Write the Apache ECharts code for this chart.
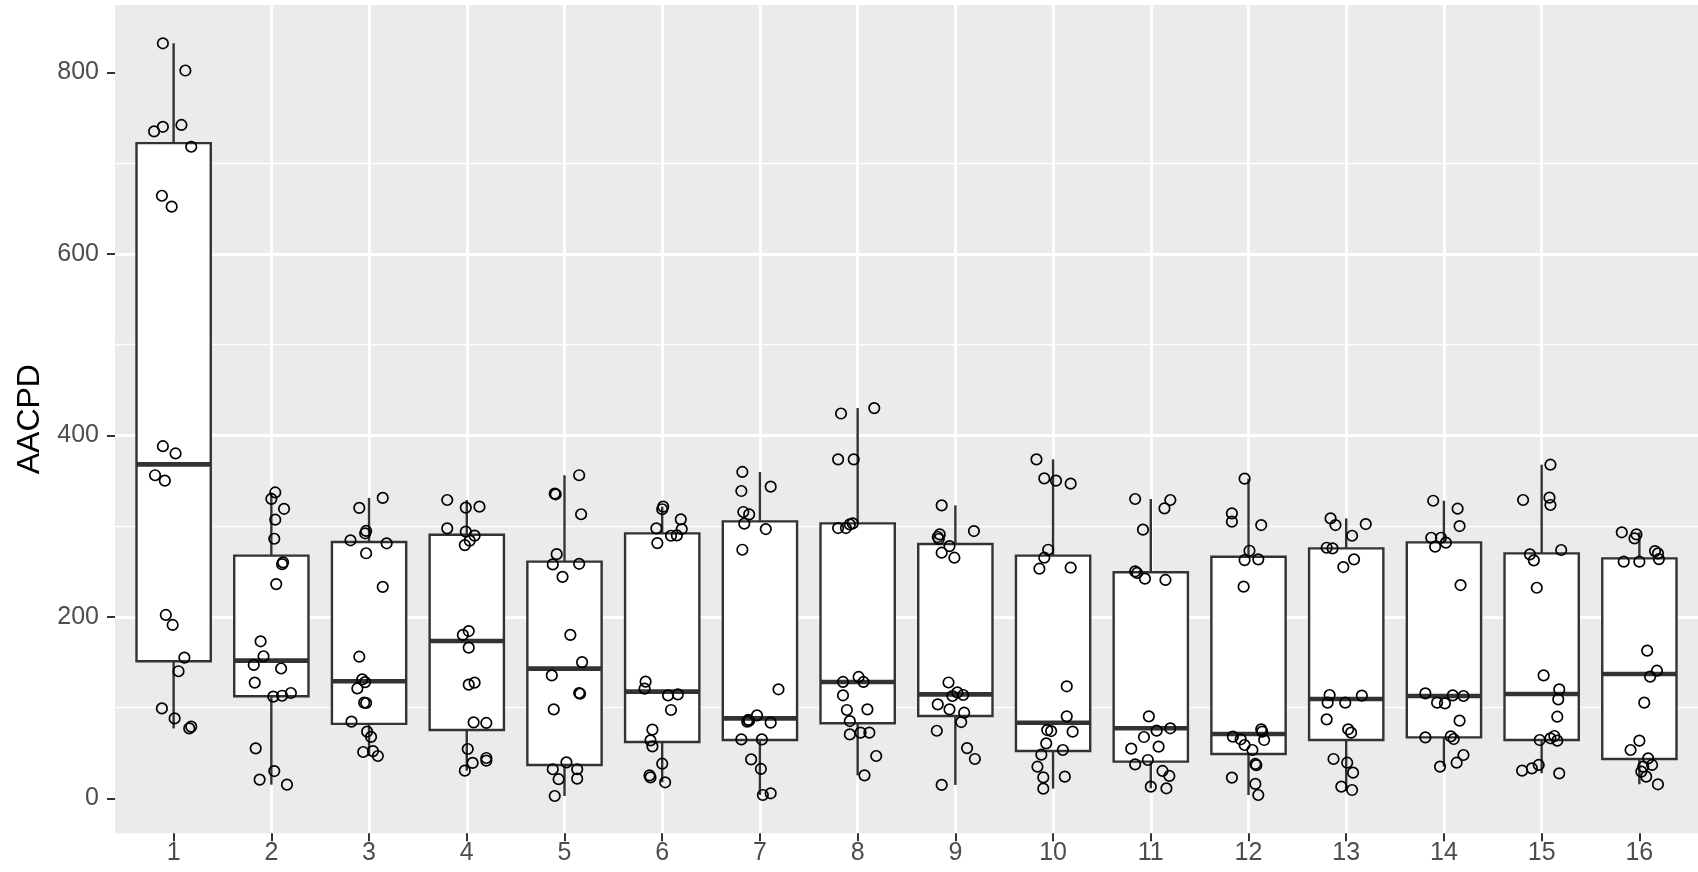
<!DOCTYPE html>
<html>
<head>
<meta charset="utf-8">
<script src="https://cdn.jsdelivr.net/npm/echarts@6/dist/echarts.min.js"></script>
<style>
html,body{margin:0;padding:0;background:#ffffff;}
#chart{width:1698px;height:872px;}
</style>
</head>
<body>
<div id="chart"></div>
<script>
// ---------- data ----------
const categories = ['1','2','3','4','5','6','7','8','9','10','11','12','13','14','15','16'];
const yTickValues = [0, 200, 400, 600, 800];
const yAxisTitle = 'AACPD';

// box statistics (lower whisker end, Q1, median, Q3, upper whisker end)
const boxMin    = [77,  15,   46.6, 30.4, 2.5,  17.6, 3.6,  25.3, 14.7, 10.6, 11,   3.6,  9.1,  34.9, 27.5, 15.4];
const boxQ1     = [151, 112.4, 82,  75.3, 36.6, 62,   64.2, 82.6, 90.7, 52.1, 40.4, 48.8, 64.2, 67.1, 64.2, 43.3];
const boxMedian = [368, 151.7, 129, 173.3, 142.9, 117.5, 88, 128.2, 114.5, 83.3, 77.1, 70.9, 109.4, 112.7, 114.9, 137];
const boxQ3     = [722, 267.4, 282.5, 290.4, 260.8, 291.9, 305.1, 302.9, 280.2, 267.4, 249, 266.2, 275.4, 282, 269.9, 264.4];
const boxMax    = [832, 337,  331,  328.7, 356, 321.4, 359.6, 430, 322.8, 373.5, 329.8, 352.2, 308.4, 327.9, 367.6, 293.1];

// jittered points: [horizontal jitter (category units), value]
const points1 = [[-0.11,832],[0.12,802],[0.08,742],[-0.11,740],[-0.20,735],[0.18,718],[-0.12,664],[-0.02,652],[-0.11,388],[0.02,380],[-0.19,356],[-0.09,350],[-0.08,202],[-0.01,191],[0.11,155],[0.05,140],[-0.12,99],[0.01,88],[0.16,77],[0.18,79]];
const points2 = [[0.04,337],[0.00,330],[0.13,319],[0.04,307],[0.03,286],[0.12,260],[0.11,258],[0.05,236],[-0.11,173],[-0.08,156.5],[-0.18,147],[0.10,143],[-0.17,127.5],[0.20,116],[0.11,113],[0.02,112],[-0.16,55],[0.03,30],[-0.12,20.6],[0.16,15]];
const points3 = [[0.14,331],[-0.10,320],[-0.03,294.6],[-0.04,292],[-0.19,284.3],[0.18,281],[-0.03,270],[0.14,233],[-0.10,156],[-0.07,131],[-0.04,128],[-0.12,121],[-0.03,105],[-0.05,105.4],[-0.18,84.5],[-0.02,73.5],[0.02,67.6],[-0.06,51],[0.04,52],[0.09,46.6]];
const points4 = [[-0.20,328.7],[-0.01,320.3],[0.13,321.4],[-0.20,297.5],[-0.01,293.8],[0.08,289.4],[0.03,284],[-0.02,279],[0.02,184.3],[-0.04,180],[0.02,166],[0.08,127.4],[0.02,125.2],[0.07,83.7],[0.20,83],[0.01,54.3],[0.20,44.4],[0.20,41.5],[0.06,39],[-0.02,30.4]];
const points5 = [[0.15,356],[-0.10,335.7],[-0.09,335],[0.17,313],[-0.08,269],[-0.12,257.7],[0.15,258.4],[-0.02,244],[0.06,180],[0.18,150],[-0.13,135.4],[0.15,116],[0.16,115.2],[-0.11,98],[0.02,39.6],[-0.12,32],[0.13,32],[-0.06,21],[0.13,21.6],[-0.10,2.5]];
const points6 = [[0.01,321.4],[0.00,318.5],[0.19,307.4],[-0.06,297.5],[0.20,296.7],[0.15,289.7],[0.09,289.3],[-0.05,281.2],[-0.17,128.5],[-0.18,120.8],[0.16,114.5],[0.06,113.4],[0.09,97.3],[-0.10,75.6],[-0.12,63.8],[-0.10,57.2],[0.00,38.1],[-0.13,25.2],[-0.12,23],[0.03,17.6]];
const points7 = [[-0.18,359.6],[0.11,343.4],[-0.19,338.6],[-0.17,315.5],[-0.11,312.9],[-0.16,302.6],[0.06,296.7],[-0.18,273.9],[0.19,120.1],[-0.03,91.4],[-0.12,86.3],[-0.13,84.4],[-0.11,85.5],[0.11,83.3],[-0.19,64.9],[0.02,64.9],[-0.09,42.9],[0.01,32.3],[0.11,5.5],[0.03,3.6]];
const points8 = [[0.17,430],[-0.17,424],[-0.20,373.5],[-0.04,373.5],[-0.20,297.8],[-0.12,297.8],[-0.08,301.8],[-0.05,302.9],[-0.15,128.2],[0.01,133.7],[0.06,128.2],[-0.15,113.5],[-0.11,97.3],[0.10,98],[-0.08,85.1],[-0.08,70.4],[0.03,72.3],[0.12,72.3],[0.19,46.6],[0.07,25.3]];
const points9 = [[-0.14,322.8],[0.19,294.5],[-0.16,290.8],[-0.18,287.9],[-0.17,285.7],[-0.06,277.9],[-0.14,270.6],[-0.01,265.1],[-0.07,127.6],[0.02,116.7],[0.08,113.8],[-0.03,112.7],[-0.18,103.5],[-0.06,98],[0.09,94.3],[0.06,84],[-0.19,74.4],[0.12,55.3],[0.20,43.3],[-0.14,14.7]];
const points10 = [[-0.17,373.5],[-0.09,352.6],[0.03,350],[0.18,346.7],[-0.05,273.9],[-0.09,265.1],[-0.14,253],[0.18,254.1],[0.14,123.4],[0.14,90.3],[-0.06,75.2],[-0.02,74.1],[0.20,73.4],[-0.07,60.5],[0.10,53.2],[-0.12,48],[-0.16,34.8],[-0.10,23],[0.12,23.8],[-0.10,10.6]];
const points11 = [[-0.16,329.8],[0.20,328.7],[0.14,319.5],[-0.08,296],[-0.16,250.1],[-0.14,248.3],[-0.06,242],[0.15,240.6],[-0.02,90.3],[0.20,77.1],[0.06,74.5],[-0.07,67.5],[0.08,56.9],[-0.20,54.7],[-0.03,42.2],[-0.16,37.4],[0.12,30.1],[0.19,24.6],[0.00,12.8],[0.16,11]];
const points12 = [[-0.04,352.2],[-0.17,314],[-0.17,304.8],[0.13,301.1],[0.01,272.8],[-0.04,262.5],[0.10,263.3],[-0.05,233.2],[0.13,76],[0.14,73.4],[-0.16,67.9],[-0.08,65],[0.16,64.2],[-0.04,58.7],[0.04,53.2],[0.07,37.8],[0.08,36.5],[-0.17,22.8],[0.07,15.8],[0.10,3.6]];
const points13 = [[-0.16,308.4],[-0.11,301.1],[0.20,302.2],[0.06,289.3],[-0.20,276.1],[-0.14,275.4],[0.08,263.3],[-0.03,254.8],[-0.17,113.8],[0.16,113.1],[-0.19,105.4],[-0.01,105.4],[-0.20,87],[0.02,76],[0.05,72.3],[-0.13,43.3],[0.01,39.2],[0.07,28.2],[-0.05,12.8],[0.06,9.1]];
const points14 = [[-0.11,327.9],[0.14,319.1],[0.16,300],[-0.13,287.1],[-0.03,287.1],[-0.09,277.3],[0.02,281.7],[0.17,235],[-0.19,115.6],[0.09,113.4],[0.20,112.7],[-0.07,105.4],[0.01,104.6],[0.16,85.5],[-0.19,67.1],[0.07,68.2],[0.10,65.3],[0.20,47.7],[0.13,39.2],[-0.04,34.9]];
const points15 = [[0.09,367.6],[-0.19,328.7],[0.08,331.3],[0.09,323.2],[0.20,273.6],[-0.12,268.8],[-0.08,262.2],[-0.05,232],[0.02,135.4],[0.18,120],[0.17,109],[0.16,89.9],[0.13,68.6],[0.09,66.1],[0.16,63.5],[-0.02,64.2],[-0.03,36.7],[-0.10,33],[-0.20,30.4],[0.18,27.5]];
const points16 = [[-0.18,293.1],[-0.03,290.8],[-0.05,286.4],[0.16,272.4],[0.19,269.9],[0.20,263.6],[-0.16,260.7],[0.00,260.7],[0.08,162.7],[0.18,140.6],[0.11,134],[0.05,105.4],[0.00,63.5],[-0.09,53.2],[0.09,44],[0.13,36.7],[0.04,34.9],[0.02,29.4],[0.07,23.9],[0.19,15.4]];

// ---------- build the chart ----------
const pointsByCategory = [points1,points2,points3,points4,points5,points6,points7,points8,points9,points10,points11,points12,points13,points14,points15,points16];
const categoryPos = categories.map((c, i) => i + 1);
const boxData = categories.map((c, i) => [i + 1, boxMin[i], boxQ1[i], boxMedian[i], boxQ3[i], boxMax[i]]);
const scatterData = [];
pointsByCategory.forEach((pts, i) => pts.forEach(p => scatterData.push([i + 1 + p[0], p[1]])));

const FONT = '"Liberation Sans", Arial, Helvetica, sans-serif';
const BOX_WIDTH = 0.76;
const STROKE = '#333333';
const BOX_LW = 2.4;
const MEDIAN_LW = 4.6;

const chart = echarts.init(document.getElementById('chart'), null, {renderer: 'canvas'});
chart.setOption({
  animation: false,
  backgroundColor: '#ffffff',
  grid: {
    left: 115, right: -16, top: 5, bottom: 38.7,
    show: true, backgroundColor: '#EBEBEB', borderWidth: 0
  },
  xAxis: {
    type: 'value',
    min: 0.4, max: 16.6,
    splitNumber: 16, minInterval: 1, maxInterval: 1,
    axisLine: {show: false, onZero: false},
    axisTick: {show: true, length: 8, lineStyle: {color: STROKE, width: 2}, customValues: categoryPos},
    axisLabel: {
      show: true, margin: 7, color: '#4D4D4D', fontSize: 25, fontFamily: FONT,
      customValues: categoryPos,
      formatter: v => categories[Math.round(v) - 1] || ''
    },
    splitLine: {show: true, showMinLine: false, showMaxLine: false, lineStyle: {color: '#FFFFFF', width: 2.8}}
  },
  yAxis: {
    type: 'value',
    min: -38.6, max: 874.2,
    splitNumber: 5, minInterval: 200, maxInterval: 200,
    name: yAxisTitle,
    nameLocation: 'middle',
    nameRotate: 90,
    nameGap: 64,
    nameTextStyle: {color: '#000000', fontSize: 32, fontFamily: FONT},
    axisLine: {show: false, onZero: false},
    axisTick: {show: true, length: 8, lineStyle: {color: STROKE, width: 2}, customValues: yTickValues},
    axisLabel: {show: true, margin: 16, color: '#4D4D4D', fontSize: 25, fontFamily: FONT, customValues: yTickValues},
    splitLine: {show: true, showMinLine: false, showMaxLine: false, lineStyle: {color: '#FFFFFF', width: 2.8}},
    minorTick: {show: false, splitNumber: 2},
    minorSplitLine: {show: true, lineStyle: {color: '#FFFFFF', width: 1.4}}
  },
  series: [
    {
      type: 'custom',
      z: 2,
      data: boxData,
      encode: {x: 0, y: [1, 2, 3, 4, 5]},
      renderItem: function (params, api) {
        const x = api.value(0);
        const pMin = api.coord([x, api.value(1)]);
        const pQ1 = api.coord([x, api.value(2)]);
        const pMed = api.coord([x, api.value(3)]);
        const pQ3 = api.coord([x, api.value(4)]);
        const pMax = api.coord([x, api.value(5)]);
        const hw = api.size([BOX_WIDTH, 0])[0] / 2;
        return {
          type: 'group',
          children: [
            {type: 'line', shape: {x1: pMin[0], y1: pMin[1], x2: pQ1[0], y2: pQ1[1]}, style: {stroke: STROKE, lineWidth: BOX_LW}},
            {type: 'line', shape: {x1: pQ3[0], y1: pQ3[1], x2: pMax[0], y2: pMax[1]}, style: {stroke: STROKE, lineWidth: BOX_LW}},
            {type: 'rect', shape: {x: pQ1[0] - hw, y: pQ3[1], width: 2 * hw, height: pQ1[1] - pQ3[1]}, style: {fill: '#FFFFFF', stroke: STROKE, lineWidth: BOX_LW}},
            {type: 'line', shape: {x1: pMed[0] - hw, y1: pMed[1], x2: pMed[0] + hw, y2: pMed[1]}, style: {stroke: STROKE, lineWidth: MEDIAN_LW}}
          ]
        };
      }
    },
    {
      type: 'scatter',
      z: 3,
      data: scatterData,
      symbol: 'circle',
      symbolSize: 10.5,
      itemStyle: {color: 'rgba(0,0,0,0)', borderColor: '#000000', borderWidth: 1.7, opacity: 1},
      emphasis: {disabled: true}
    }
  ]
});
</script>
</body>
</html>
